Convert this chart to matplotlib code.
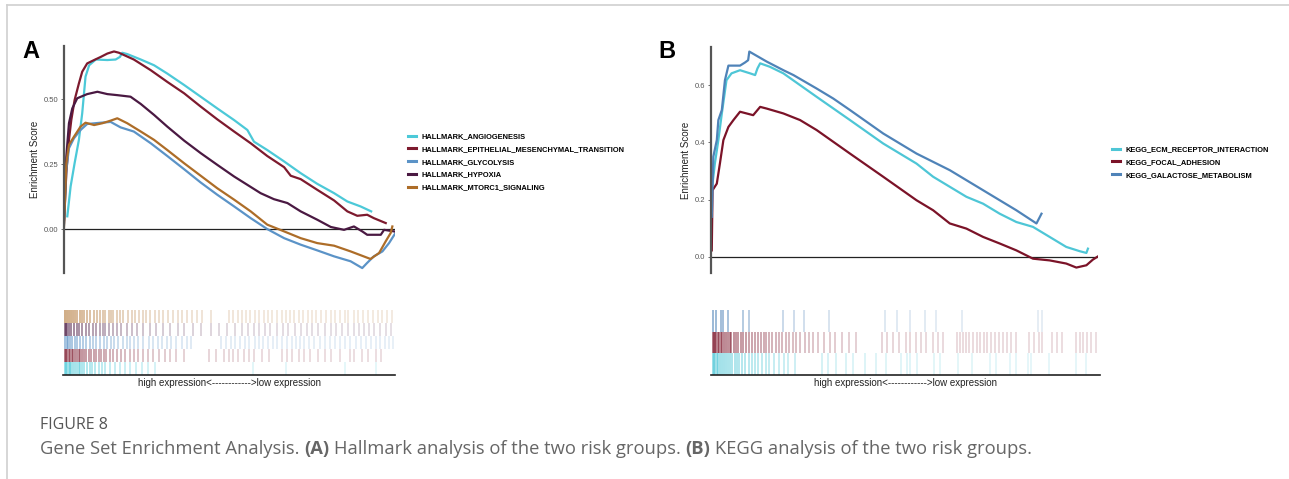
import numpy as np
import matplotlib
matplotlib.use("Agg")
import matplotlib.pyplot as plt
from matplotlib.colors import to_rgba
from matplotlib.lines import Line2D

# ---------------- data (rank position 0-1000, running enrichment score) ----------------
hallmark_names = ["HALLMARK_ANGIOGENESIS", "HALLMARK_EPITHELIAL_MESENCHYMAL_TRANSITION",
                  "HALLMARK_GLYCOLYSIS", "HALLMARK_HYPOXIA", "HALLMARK_MTORC1_SIGNALING"]
hallmark_colors = ["#4cc9d8", "#7d1a2e", "#5b93c7", "#4a1942", "#ad6d28"]

angio_x = [10, 20, 32, 45, 55, 65, 76, 96, 131, 156, 169, 176, 191, 232, 272, 312, 363, 413, 463,
           514, 554, 574, 614, 665, 715, 765, 816, 856, 896, 928]
angio_y = [0.049, 0.164, 0.253, 0.343, 0.445, 0.586, 0.630, 0.652, 0.650, 0.652, 0.662, 0.678, 0.673,
           0.652, 0.630, 0.598, 0.554, 0.509, 0.464, 0.419, 0.381, 0.336, 0.304, 0.260, 0.215, 0.174,
           0.138, 0.106, 0.087, 0.068]

emt_x = [0, 7, 15, 22, 32, 45, 55, 70, 91, 111, 131, 151, 166, 211, 262, 312, 363, 413, 463, 514,
         564, 614, 665, 685, 715, 765, 816, 856, 886, 916, 936, 972]
emt_y = [0.023, 0.215, 0.343, 0.419, 0.496, 0.560, 0.605, 0.637, 0.650, 0.662, 0.675, 0.683, 0.678,
         0.652, 0.611, 0.566, 0.522, 0.471, 0.422, 0.375, 0.330, 0.281, 0.238, 0.205, 0.192, 0.151,
         0.110, 0.068, 0.051, 0.055, 0.042, 0.023]

glyco_x = [0, 7, 15, 30, 50, 70, 111, 141, 171, 211, 262, 312, 363, 413, 463, 514, 564, 614, 665,
           715, 765, 816, 866, 901, 916, 936, 962, 982, 1000]
glyco_y = [0.017, 0.228, 0.311, 0.349, 0.381, 0.404, 0.409, 0.412, 0.391, 0.375, 0.330, 0.281, 0.230,
           0.179, 0.132, 0.087, 0.042, 0.000, -0.035, -0.060, -0.082, -0.105, -0.124, -0.150, -0.130,
           -0.105, -0.086, -0.054, -0.018]

hypoxia_x = [0, 7, 15, 25, 40, 70, 101, 131, 161, 201, 232, 272, 312, 363, 413, 463, 514, 554, 594,
             634, 675, 715, 765, 806, 846, 876, 901, 916, 957, 967, 997]
hypoxia_y = [0.036, 0.279, 0.407, 0.464, 0.503, 0.519, 0.528, 0.519, 0.515, 0.509, 0.481, 0.439, 0.394,
             0.340, 0.292, 0.247, 0.202, 0.170, 0.138, 0.115, 0.100, 0.068, 0.036, 0.008, -0.003, 0.010,
             -0.009, -0.022, -0.022, -0.003, -0.009]

mtorc1_x = [0, 7, 15, 30, 50, 65, 91, 116, 141, 161, 191, 232, 272, 312, 363, 413, 463, 514, 564, 614,
            665, 715, 765, 816, 866, 926, 952, 972, 987, 992]
mtorc1_y = [0.010, 0.253, 0.324, 0.355, 0.394, 0.409, 0.400, 0.407, 0.417, 0.426, 0.407, 0.375, 0.343,
            0.304, 0.253, 0.205, 0.157, 0.113, 0.068, 0.017, -0.009, -0.035, -0.054, -0.064, -0.086,
            -0.115, -0.092, -0.047, -0.015, 0.010]

# hit positions for the rug (top row first)
mtorc1_hits = [3, 8, 14, 20, 27, 33, 40, 48, 55, 62, 70, 80, 92, 100, 108, 118, 125, 135, 142, 150, 160,
               170, 180, 195, 205, 215, 228, 240, 250, 262, 275, 288, 300, 315, 330, 345, 358, 372, 388,
               402, 418, 445, 500, 512, 528, 540, 552, 565, 580, 592, 606, 618, 630, 645, 660, 672, 685,
               698, 712, 725, 740, 752, 765, 780, 795, 808, 822, 835, 850, 862, 878, 892, 905, 920, 935,
               950, 965, 980, 995]
hypoxia_hits = [2, 6, 10, 15, 22, 30, 38, 45, 55, 66, 75, 88, 98, 110, 118, 125, 135, 148, 160, 172, 190,
                205, 222, 240, 262, 280, 300, 320, 345, 365, 392, 415, 445, 470, 495, 518, 540, 558, 575,
                592, 610, 625, 645, 665, 680, 700, 718, 735, 752, 770, 790, 808, 825, 842, 860, 878, 895,
                910, 925, 940, 958, 975, 990]
glyco_hits = [3, 8, 12, 18, 25, 32, 40, 50, 58, 66, 78, 88, 98, 108, 120, 130, 142, 152, 165, 178, 190,
              200, 212, 225, 240, 258, 270, 285, 298, 312, 325, 340, 358, 372, 385, 475, 490, 505, 518,
              532, 548, 562, 578, 590, 602, 618, 632, 645, 660, 675, 690, 702, 715, 728, 742, 758, 775,
              790, 805, 820, 835, 850, 868, 885, 900, 915, 930, 945, 958, 972, 985, 998]
emt_hits = [2, 6, 10, 14, 18, 23, 28, 33, 38, 44, 50, 56, 62, 68, 75, 82, 90, 98, 105, 112, 120, 128,
            138, 148, 160, 172, 185, 200, 212, 225, 240, 255, 270, 288, 305, 322, 340, 365, 440, 460,
            485, 500, 512, 528, 545, 560, 575, 600, 620, 660, 675, 690, 712, 728, 745, 770, 790, 810,
            835, 868, 880, 902, 920, 945, 960]
angio_hits = [3, 6, 10, 14, 18, 22, 27, 32, 38, 44, 50, 56, 62, 70, 78, 86, 95, 105, 115, 125, 140, 155,
              170, 185, 200, 218, 235, 255, 275, 572, 672, 850, 945]

kegg_names = ["KEGG_ECM_RECEPTOR_INTERACTION", "KEGG_FOCAL_ADHESION", "KEGG_GALACTOSE_METABOLISM"]
kegg_colors = ["#4ec6d6", "#7b1328", "#4f83b8"]

ecm_x = [2, 10, 19, 28, 40, 53, 75, 101, 114, 120, 127, 152, 187, 230, 273, 359, 445, 531, 574, 617,
         660, 703, 746, 789, 832, 875, 918, 953, 970, 974]
ecm_y = [0.233, 0.326, 0.408, 0.501, 0.617, 0.641, 0.652, 0.641, 0.635, 0.658, 0.676, 0.664, 0.641,
         0.600, 0.559, 0.478, 0.396, 0.326, 0.280, 0.245, 0.210, 0.186, 0.151, 0.122, 0.105, 0.070,
         0.035, 0.020, 0.014, 0.029]

focal_x = [2, 4, 15, 23, 32, 45, 58, 75, 92, 109, 127, 144, 187, 230, 273, 359, 445, 531, 574, 617,
           660, 703, 746, 789, 832, 875, 918, 944, 970, 987, 1000]
focal_y = [0.023, 0.233, 0.256, 0.326, 0.408, 0.454, 0.478, 0.507, 0.501, 0.495, 0.524, 0.518, 0.501,
           0.478, 0.443, 0.361, 0.280, 0.198, 0.163, 0.117, 0.099, 0.070, 0.047, 0.023, -0.006, -0.012,
           -0.023, -0.037, -0.029, -0.009, 0.002]

galac_x = [2, 6, 15, 19, 28, 36, 45, 75, 88, 96, 99, 144, 187, 213, 273, 316, 359, 445, 531, 574, 617,
           703, 789, 841, 854]
galac_y = [0.140, 0.350, 0.408, 0.478, 0.513, 0.617, 0.668, 0.668, 0.679, 0.687, 0.717, 0.682, 0.652,
           0.635, 0.588, 0.553, 0.513, 0.431, 0.361, 0.332, 0.303, 0.233, 0.163, 0.117, 0.151]

galac_hits = [2, 10, 23, 27, 40, 79, 96, 182, 212, 238, 302, 447, 477, 512, 550, 580, 645, 843, 853]
focal_hits = [1, 4, 7, 10, 14, 18, 22, 26, 30, 35, 40, 45, 50, 56, 62, 68, 74, 80, 88, 95, 103, 110, 118,
              126, 133, 140, 148, 156, 164, 172, 180, 190, 198, 208, 218, 228, 240, 250, 262, 275, 290,
              305, 318, 335, 355, 372, 440, 452, 468, 482, 500, 512, 528, 540, 552, 570, 585, 597, 632,
              640, 648, 656, 665, 675, 684, 692, 702, 712, 722, 732, 743, 752, 762, 772, 787, 820, 832,
              845, 853, 880, 892, 905, 941, 950, 960, 970, 980, 992]
ecm_hits = [1, 4, 8, 12, 16, 20, 25, 30, 35, 40, 46, 52, 58, 64, 70, 78, 86, 94, 102, 110, 118, 128, 138,
            148, 160, 172, 185, 197, 214, 285, 300, 321, 347, 364, 394, 424, 450, 488, 505, 512, 530, 573,
            590, 637, 672, 718, 735, 769, 787, 817, 825, 872, 941, 967]

# ---------------- figure ----------------
W, H = 1289, 479
fig = plt.figure(figsize=(W / 100, H / 100), dpi=100)
fig.patch.set_facecolor("white")
font = "Liberation Sans"


def px_axes(left, top, right, bottom):
    return fig.add_axes([left / W, 1 - bottom / H, (right - left) / W, (bottom - top) / H])


def es_panel(ax, xs, ys, colors, ylim, yticks, yticklabels):
    for x, y, c in zip(xs, ys, colors):
        ax.plot(x, y, color=c, lw=1.6, solid_joinstyle="round")
    ax.axhline(0, color="#222222", lw=0.9, zorder=0)
    ax.set_xlim(0, 1000)
    ax.set_ylim(*ylim)
    ax.set_yticks(yticks)
    ax.set_yticklabels(yticklabels, fontsize=5.5, color="#555555", family=font)
    ax.set_xticks([])
    for s in ["top", "right", "bottom"]:
        ax.spines[s].set_visible(False)
    ax.spines["left"].set_color("#555555")
    ax.spines["left"].set_linewidth(1.6)
    ax.tick_params(axis="y", length=2, width=0.6, color="#555555", pad=2)
    ax.set_ylabel("Enrichment Score", fontsize=7, family=font, color="#222222", labelpad=3)


def rug_panel(ax, hit_rows, colors):
    n = len(hit_rows)
    for i, (hits, c) in enumerate(zip(hit_rows, colors)):
        top = n - i
        alphas = 0.18 + 0.55 * np.exp(-np.array(hits) / 180.0)
        cols = [to_rgba(c, a) for a in alphas]
        ax.vlines(hits, top - 1, top, colors=cols, lw=1.1)
    ax.set_xlim(-3, 1003)
    ax.set_ylim(0, n)
    ax.set_xticks([])
    ax.set_yticks([])
    for s in ["top", "right", "left"]:
        ax.spines[s].set_visible(False)
    ax.spines["bottom"].set_linewidth(1.2)
    ax.spines["bottom"].set_color("#222222")
    ax.set_xlabel("high expression<------------>low expression", fontsize=7, family=font,
                  labelpad=2, color="#222222")


# Panel A
axA = px_axes(64, 46, 395, 273)
es_panel(axA, [angio_x, emt_x, glyco_x, hypoxia_x, mtorc1_x],
         [angio_y, emt_y, glyco_y, hypoxia_y, mtorc1_y], hallmark_colors,
         (-0.169, 0.704), [0, 0.25, 0.5], ["0.00", "0.25", "0.50"])
rugA = px_axes(63, 310, 395, 375)
rug_panel(rugA, [mtorc1_hits, hypoxia_hits, glyco_hits, emt_hits, angio_hits],
          [hallmark_colors[4], hallmark_colors[3], hallmark_colors[2], hallmark_colors[1],
           hallmark_colors[0]])

# Panel B
axB = px_axes(711, 47, 1098, 273)
es_panel(axB, [ecm_x, focal_x, galac_x], [ecm_y, focal_y, galac_y], kegg_colors,
         (-0.056, 0.733), [0, 0.2, 0.4, 0.6], ["0.0", "0.2", "0.4", "0.6"])
rugB = px_axes(711, 310, 1100, 375)
rug_panel(rugB, [galac_hits, focal_hits, ecm_hits], [kegg_colors[2], kegg_colors[1], kegg_colors[0]])

# legends
for names, colors, x0, y0 in [(hallmark_names, hallmark_colors, 408 / W, 1 - 133 / H),
                              (kegg_names, kegg_colors, 1112 / W, 1 - 146 / H)]:
    handles = [Line2D([], [], color=c, lw=2.2) for c in colors]
    fig.legend(handles, names, loc="upper left", bbox_to_anchor=(x0, y0), frameon=False,
               prop={"family": font, "weight": "bold", "size": 5.45}, handlelength=1.0,
               handletextpad=0.8, labelspacing=0.72, borderpad=0, borderaxespad=0)

# panel letters
fig.text(22 / W, 1 - 58 / H, "A", fontsize=17, fontweight="bold", family=font, va="baseline")
fig.text(658 / W, 1 - 58 / H, "B", fontsize=17, fontweight="bold", family=font, va="baseline")

# frame
fig.add_artist(Line2D([7 / W, 7 / W], [0, 1 - 5 / H], color="#d0d0d0", lw=1.2))
fig.add_artist(Line2D([7 / W, 1], [1 - 5 / H, 1 - 5 / H], color="#d0d0d0", lw=1.2))

# caption
cap_font = "Open Sans"
fig.text(40 / W, 1 - 429 / H, "FIGURE 8", fontsize=11.5, family=cap_font, color="#555555",
         va="baseline")
pieces = [("Gene Set Enrichment Analysis.", "normal"), ("(A)", "bold"),
          ("Hallmark analysis of the two risk groups.", "normal"), ("(B)", "bold"),
          ("KEGG analysis of the two risk groups.", "normal")]
renderer = fig.canvas.get_renderer()
x = 40
for txt, wt in pieces:
    t = fig.text(x / W, 1 - 454 / H, txt, fontsize=13.2, family=cap_font, fontweight=wt,
                 color="#666666", va="baseline")
    x = t.get_window_extent(renderer).x1 + 4.6

fig.savefig("out.png", dpi=100)
